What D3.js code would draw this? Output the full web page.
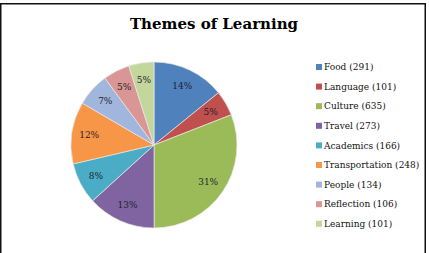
<!DOCTYPE html>
<html lang="en">
  <head>
    <meta charset="UTF-8">
    <title>Themes of Learning</title>
    <script src="https://cdn.jsdelivr.net/npm/d3@7"></script>
    <style>
      html, body {
        margin: 0;
        padding: 0;
        background: #fff;
      }
      svg {
        display: block;
      }
      .title {
        font-family: 'DejaVu Serif', serif;
        font-weight: bold;
        font-size: 15px;
      }
      .legend-text, .pct {
        font-family: 'DejaVu Serif', serif;
        font-size: 9px;
      }
    </style>
  </head>
  <body>
    <script>
      const themes = ["Food", "Language", "Culture", "Travel", "Academics", "Transportation", "People", "Reflection", "Learning"];
      const counts = [291, 101, 635, 273, 166, 248, 134, 106, 101];
      const colors = ["#4f81bd", "#c0504d", "#9bbb59", "#8064a2", "#4bacc6", "#f79646", "#a0b6dc", "#d99694", "#c3d69b"];

      const width = 429, height = 253;
      const cx = 154, cy = 145, radius = 83;

      const data = themes.map((t, i) => ({ name: t, value: counts[i], color: colors[i] }));
      const total = d3.sum(counts);

      const svg = d3.select("body")
        .append("svg")
        .attr("width", width)
        .attr("height", height);

      // frame around the chart
      svg.append("path")
        .attr("d", `M0.75,${height} V3.75 H425.25 V${height}`)
        .attr("fill", "none")
        .attr("stroke", "#111")
        .attr("stroke-width", 1.5);

      svg.append("text")
        .attr("class", "title")
        .attr("x", 214)
        .attr("y", 29)
        .attr("text-anchor", "middle")
        .text("Themes of Learning");

      const pie = d3.pie().sort(null).value(d => d.value);
      const arc = d3.arc().innerRadius(0).outerRadius(radius);
      const labelArc = d3.arc().innerRadius(radius * 0.79).outerRadius(radius * 0.79);

      const g = svg.append("g")
        .attr("transform", `translate(${cx},${cy})`);

      const arcs = pie(data);

      g.selectAll("path")
        .data(arcs)
        .enter()
        .append("path")
        .attr("d", arc)
        .attr("fill", d => d.data.color)
        .attr("stroke", "#e8e8e8")
        .attr("stroke-width", 0.7);

      g.selectAll("text")
        .data(arcs)
        .enter()
        .append("text")
        .attr("class", "pct")
        .attr("transform", d => `translate(${labelArc.centroid(d)})`)
        .attr("text-anchor", "middle")
        .attr("dy", "0.35em")
        .attr("fill", "#1f1f2e")
        .text(d => Math.round(d.data.value / total * 100) + "%");

      // legend
      const legend = svg.append("g")
        .attr("transform", "translate(316,67)");

      const rows = legend.selectAll("g")
        .data(data)
        .enter()
        .append("g")
        .attr("transform", (d, i) => `translate(0,${i * 19.6})`);

      rows.append("rect")
        .attr("x", 0)
        .attr("y", -3)
        .attr("width", 6)
        .attr("height", 6)
        .attr("fill", d => d.color);

      rows.append("text")
        .attr("class", "legend-text")
        .attr("x", 8)
        .attr("y", 0)
        .attr("dy", "0.35em")
        .attr("fill", "#111")
        .text(d => `${d.name} (${d.value})`);
    </script>
  </body>
</html>
